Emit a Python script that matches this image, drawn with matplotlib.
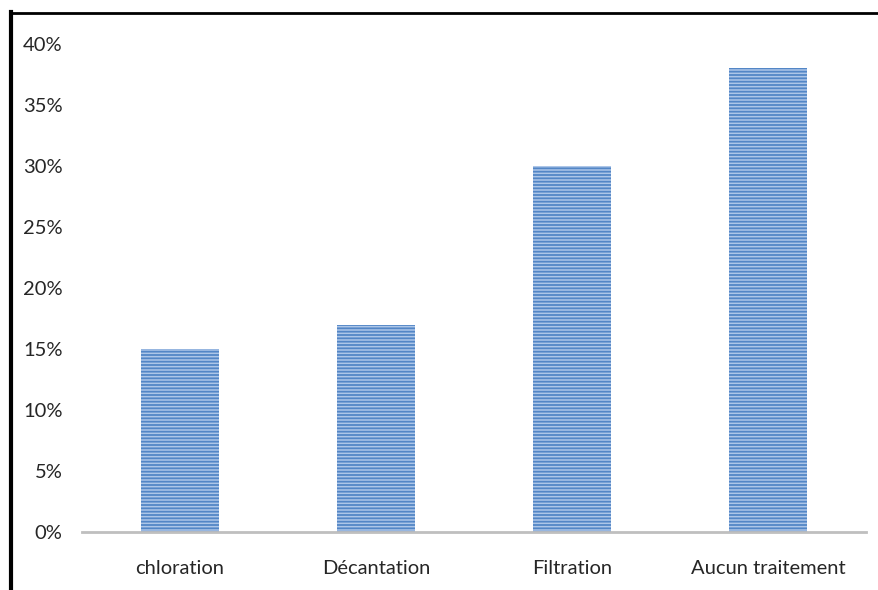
import matplotlib
matplotlib.use('Agg')
import matplotlib.pyplot as plt
from matplotlib.lines import Line2D
from matplotlib.ticker import FuncFormatter

# Traitement de l'eau avant consommation (% des ménages)
traitements = ['chloration', 'Décantation', 'Filtration', 'Aucun traitement']
pourcentages = [15, 17, 30, 38]
graduations = [0, 5, 10, 15, 20, 25, 30, 35, 40]

plt.rcParams['font.family'] = ['Lato', 'DejaVu Sans']
plt.rcParams['hatch.linewidth'] = 1.3

fig = plt.figure(figsize=(8.79, 5.90), dpi=100)
ax = fig.add_axes([82/879, 1 - 532/590, (866 - 82)/879, (532 - 44)/590])

x = range(len(traitements))
ax.bar(x, pourcentages, width=0.4, color='#adc6e8', edgecolor='#5386c6',
       linewidth=0, hatch='-----', zorder=2)

ax.set_xlim(-0.5, 3.5)
ax.set_ylim(0, 40)
ax.set_yticks(graduations)
ax.yaxis.set_major_formatter(FuncFormatter(lambda v, p: f'{v:.0f}%'))
ax.set_xticks(list(x))
ax.set_xticklabels(traitements)
ax.tick_params(axis='both', length=0, labelsize=14.5, colors='#262626')
ax.tick_params(axis='y', pad=14)
ax.tick_params(axis='x', pad=20)

for s in ['top', 'right', 'left']:
    ax.spines[s].set_visible(False)
ax.spines['bottom'].set_color('#bfbfbf')
ax.spines['bottom'].set_linewidth(2)

# cadre noir autour du graphique
fig.add_artist(Line2D([11.5/879, 11.5/879], [0, 1 - 12/590], color='black',
                      linewidth=3, transform=fig.transFigure))
fig.add_artist(Line2D([10/879, 1], [1 - 13/590, 1 - 13/590], color='black',
                      linewidth=2, transform=fig.transFigure))

fig.savefig('out.png', dpi=100)
